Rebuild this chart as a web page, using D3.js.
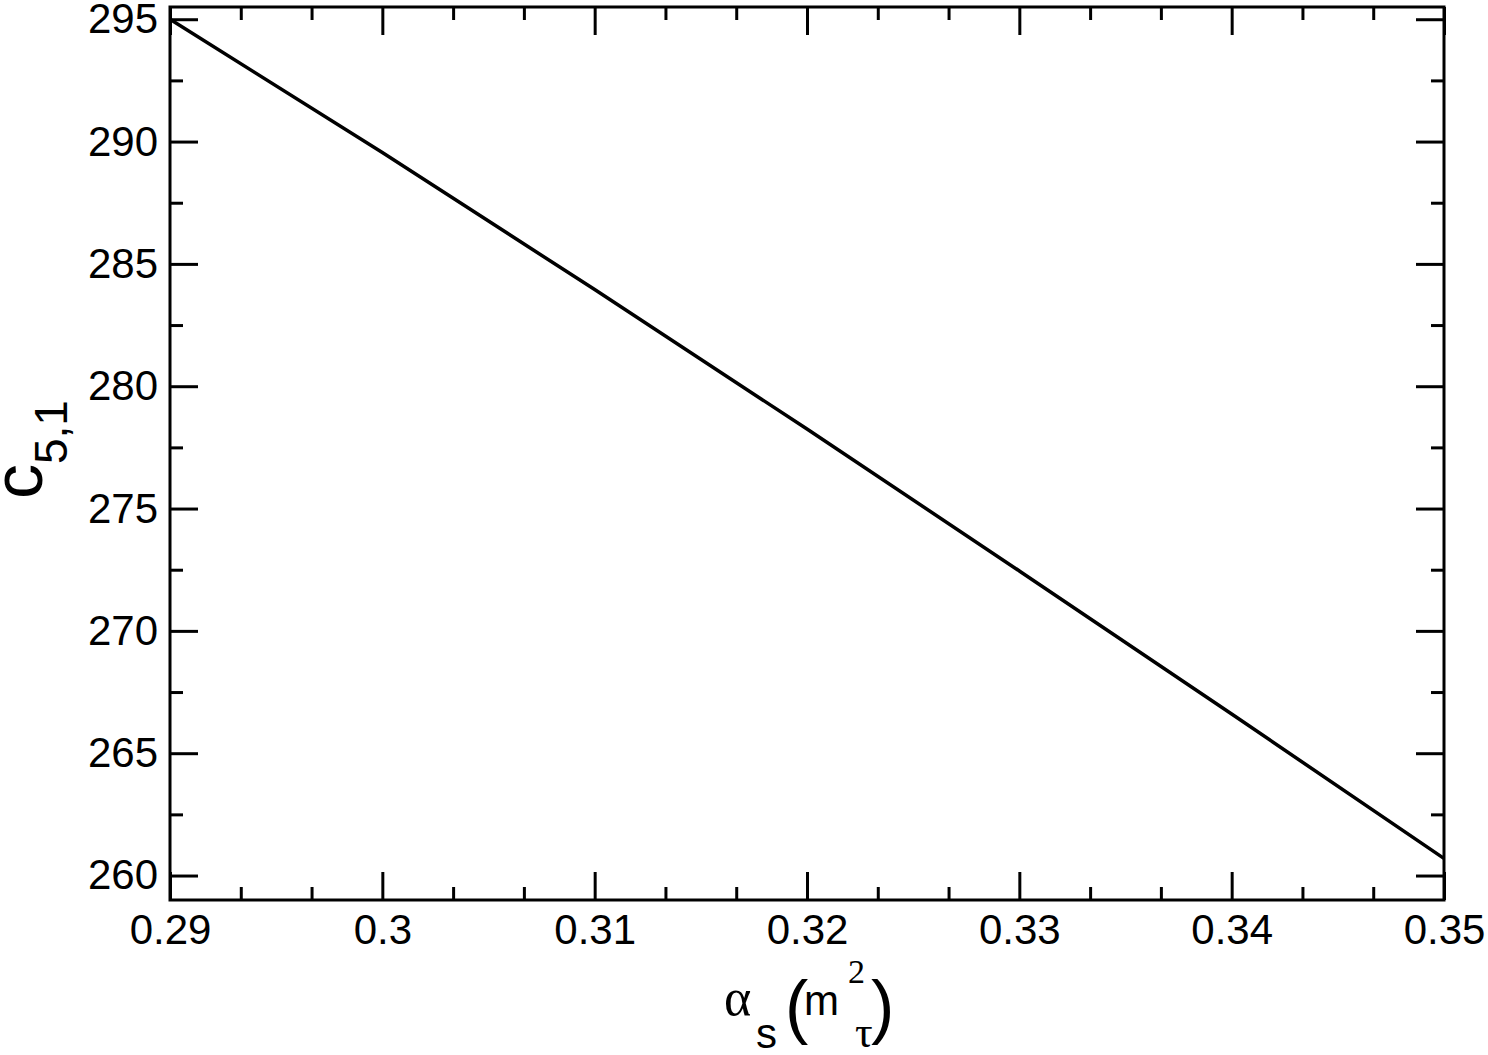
<!DOCTYPE html>
<html>
<head>
<meta charset="utf-8">
<script src="https://cdn.jsdelivr.net/npm/d3@7"></script>
<style>
html,body{margin:0;padding:0;background:#fff;}
svg{display:block;}
</style>
</head>
<body>
<svg id="chart" width="1488" height="1055"></svg>
<script>
// Data
const alphaS = [0.29, 0.30, 0.31, 0.32, 0.33, 0.34, 0.35];
const c51 = [295.0, 289.55, 283.95, 278.25, 272.45, 266.6, 260.7];
const xTicks = [0.29, 0.30, 0.31, 0.32, 0.33, 0.34, 0.35];
const xTickLabels = ["0.29", "0.3", "0.31", "0.32", "0.33", "0.34", "0.35"];
const yTicks = [260, 265, 270, 275, 280, 285, 290, 295];
const yTickLabels = ["260", "265", "270", "275", "280", "285", "290", "295"];
const xMinorTicks = [];
for (let i = 0; i < xTicks.length - 1; i++) {
  xMinorTicks.push(xTicks[i] + 0.01 / 3, xTicks[i] + 0.02 / 3);
}
const yMinorTicks = [262.5, 267.5, 272.5, 277.5, 282.5, 287.5, 292.5];

const L = 170, R = 1444, T = 7, B = 900;
const svg = d3.select("#chart");
const x = d3.scaleLinear().domain([0.29, 0.35]).range([L, R]);
const y = d3.scaleLinear().domain([259, 295.5]).range([B, T]);

const font = "'Liberation Sans', Arial, Helvetica, sans-serif";
const serif = "'Liberation Serif', 'Times New Roman', serif";

function styleAxis(g, showText) {
  g.select(".domain").remove();
  g.selectAll(".tick line").attr("stroke", "#000").attr("stroke-width", 3);
  g.selectAll(".tick text").attr("font-family", font).attr("font-size", 42).attr("fill", "#000");
  if (!showText) g.selectAll(".tick text").remove();
}

// major ticks
svg.append("g").attr("transform", `translate(0,${B})`)
  .call(d3.axisBottom(x).tickValues(xTicks).tickSize(-28).tickSizeOuter(0).tickPadding(14)
    .tickFormat((d, i) => xTickLabels[i]))
  .call(g => styleAxis(g, true));
svg.append("g").attr("transform", `translate(0,${T})`)
  .call(d3.axisTop(x).tickValues(xTicks).tickSize(-28).tickSizeOuter(0).tickFormat(""))
  .call(g => styleAxis(g, false));
svg.append("g").attr("transform", `translate(${L},0)`)
  .call(d3.axisLeft(y).tickValues(yTicks).tickSize(-28).tickSizeOuter(0).tickPadding(12)
    .tickFormat((d, i) => yTickLabels[i]))
  .call(g => styleAxis(g, true));
svg.append("g").attr("transform", `translate(${R},0)`)
  .call(d3.axisRight(y).tickValues(yTicks).tickSize(-28).tickSizeOuter(0).tickFormat(""))
  .call(g => styleAxis(g, false));

// minor ticks
svg.append("g").attr("transform", `translate(0,${B})`)
  .call(d3.axisBottom(x).tickValues(xMinorTicks).tickSize(-13).tickSizeOuter(0).tickFormat(""))
  .call(g => styleAxis(g, false));
svg.append("g").attr("transform", `translate(0,${T})`)
  .call(d3.axisTop(x).tickValues(xMinorTicks).tickSize(-13).tickSizeOuter(0).tickFormat(""))
  .call(g => styleAxis(g, false));
svg.append("g").attr("transform", `translate(${L},0)`)
  .call(d3.axisLeft(y).tickValues(yMinorTicks).tickSize(-13).tickSizeOuter(0).tickFormat(""))
  .call(g => styleAxis(g, false));
svg.append("g").attr("transform", `translate(${R},0)`)
  .call(d3.axisRight(y).tickValues(yMinorTicks).tickSize(-13).tickSizeOuter(0).tickFormat(""))
  .call(g => styleAxis(g, false));

// data line
const line = d3.line().x((d, i) => x(alphaS[i])).y(d => y(d)).curve(d3.curveMonotoneX);
svg.append("path").datum(c51).attr("d", line)
  .attr("fill", "none").attr("stroke", "#000").attr("stroke-width", 3.5);

// frame
svg.append("rect").attr("x", L).attr("y", T).attr("width", R - L).attr("height", B - T)
  .attr("fill", "none").attr("stroke", "#000").attr("stroke-width", 3);

// y label c_{5,1}
const yl = svg.append("text").attr("transform", "translate(42,499) rotate(-90)")
  .attr("font-family", font).attr("fill", "#000");
yl.append("tspan").attr("font-size", 70).text("c");
yl.append("tspan").attr("font-size", 46).attr("dy", 25).text("5,1");

// x label alpha_s(m_tau^2)
const xl = svg.append("g").attr("fill", "#000");
xl.append("text").attr("x", 724).attr("y", 1015).attr("font-family", serif).attr("font-size", 52).text("α");
xl.append("text").attr("x", 756).attr("y", 1048).attr("font-family", font).attr("font-size", 42).text("s");
xl.append("text").attr("x", 785).attr("y", 1030).attr("font-family", font).attr("font-size", 70).text("(");
xl.append("text").attr("x", 804).attr("y", 1015).attr("font-family", font).attr("font-size", 42).text("m");
xl.append("text").attr("x", 848).attr("y", 983).attr("font-family", serif).attr("font-size", 34).text("2");
xl.append("text").attr("x", 855).attr("y", 1047).attr("font-family", serif).attr("font-size", 44).text("τ");
xl.append("text").attr("x", 871).attr("y", 1030).attr("font-family", font).attr("font-size", 70).text(")");
</script>
</body>
</html>
